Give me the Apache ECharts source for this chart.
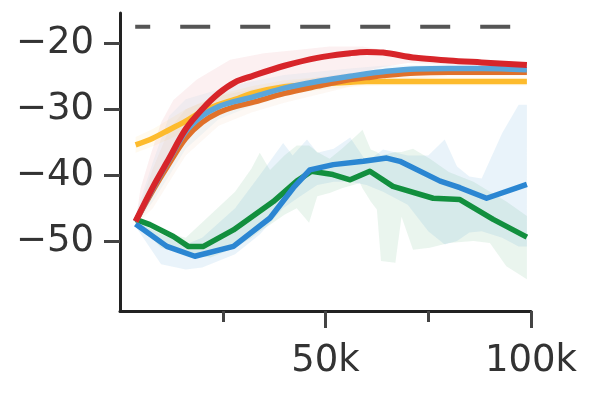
<!DOCTYPE html>
<html>
<head>
<meta charset="utf-8">
<script src="https://cdn.jsdelivr.net/npm/echarts@6/dist/echarts.min.js"></script>
<style>
html,body{margin:0;padding:0;background:#fff;}
#chart{width:598px;height:399px;}
</style>
</head>
<body>
<div id="chart"></div>
<script>
// ---- data (x in thousands of steps) ----
const yTicks = [-50, -40, -30, -20];
const xMajorTicks = [50, 100];
const xMinorTicks = [25, 75];
const refLevel = -17.5;
const refX = [3.7, 100];

const topX = [3.8, 8, 12, 16, 20, 24, 28, 32, 40, 48, 56, 60, 64, 72, 80, 88, 99];
const redY = [-47.0, -41.8, -37.4, -33.0, -30.0, -27.6, -25.9, -25.0, -23.4, -22.2, -21.5, -21.3, -21.4, -22.2, -22.6, -22.9, -23.3];
const lightBlueY = [-47.0, -42.0, -37.6, -33.4, -31.0, -29.6, -28.8, -28.2, -26.8, -25.8, -25.0, -24.6, -24.3, -23.9, -23.8, -23.8, -24.0];
const orangeY = [-47.0, -42.3, -38.2, -34.4, -32.0, -30.5, -29.6, -29.0, -27.6, -26.5, -25.5, -25.2, -24.9, -24.5, -24.4, -24.4, -24.4];
const yellowY = [-35.4, -34.4, -33.1, -31.8, -30.3, -29.3, -28.5, -27.6, -26.6, -26.2, -25.9, -25.8, -25.8, -25.8, -25.8, -25.8, -25.8];

const greenX = [3.8, 7.3, 13, 16.6, 20.3, 27.6, 37.3, 43, 46.6, 51.8, 56, 60.8, 66.4, 76.2, 82.7, 90.8, 99];
const greenY = [-46.7, -47.5, -49.3, -50.8, -50.8, -48.3, -44.0, -40.9, -39.4, -39.9, -40.7, -39.4, -41.7, -43.5, -43.7, -46.7, -49.4];
const blueX = [3.8, 11.4, 18.2, 27.6, 36.5, 42.2, 46.2, 51.9, 59.2, 64.9, 68.1, 77.9, 82.7, 89.2, 99];
const blueY = [-47.4, -50.8, -52.3, -50.8, -46.5, -41.9, -39.2, -38.4, -37.9, -37.4, -37.9, -40.9, -41.9, -43.5, -41.4];

// shaded bands
const redBandX = [3.8, 5, 7.3, 10, 13, 18.7, 26.8, 35, 43, 51, 59, 64, 70, 80, 99];
const redBandUp = [-47, -42, -37.2, -32, -28.6, -25.5, -22.5, -21.5, -21, -20.5, -20.5, -21.0, -21.6, -22.3, -23];
const redBandLo = [-47, -45, -43, -40, -36.5, -32, -29, -27.5, -26.3, -25.3, -24.3, -23.6, -23.0, -23.2, -23.6];
const lbBandX = [3.8, 8, 12, 16, 24, 32, 40, 48, 56, 64, 80, 99];
const lbBandUp = [-46, -38, -31, -28.5, -27, -25.8, -24.8, -24.3, -23.8, -23.4, -23.2, -23.4];
const lbBandLo = [-47.5, -44, -40, -36, -31.5, -29.5, -28, -27, -26, -25.2, -24.5, -24.6];
const orBandUp = [-46.5, -39, -33, -30, -28, -27, -26, -25.2, -24.5, -24, -23.8, -23.8];
const orBandLo = [-47.5, -45, -41, -37, -32.5, -30.5, -29, -27.8, -26.6, -25.8, -25, -25];
const yeBandUp = [-34.2, -33, -31.5, -30, -27.8, -26.5, -25.6, -25.2, -25.2, -25.2, -25.2, -25.2];
const yeBandLo = [-36.6, -35.6, -34.5, -33.4, -30.8, -28.8, -27.6, -27.1, -26.6, -26.4, -26.4, -26.4];

const greenBandX = [3.8, 10, 16, 22, 28, 32, 34, 36.5, 40, 43, 46, 48, 51, 54, 58.4, 59, 61, 62.5, 63.5, 67, 68.5, 71.3, 75.4, 80, 86, 90, 94, 99];
const greenBandUp = [-46.5, -48.5, -49.5, -46, -42.5, -39, -36.6, -39.2, -37, -35.5, -35.5, -36.5, -37.5, -36, -33.5, -33.1, -36.1, -36.5, -37, -36.5, -36.5, -36, -37.5, -39.5, -41, -42.5, -44, -46.2];
const greenBandLo = [-47, -51, -52, -52.5, -51, -49.5, -48.5, -47.5, -46, -45, -47.2, -43.2, -42.7, -42, -41.2, -42, -44, -45.2, -53.0, -53.3, -46.3, -51.3, -51.0, -50.3, -50, -50.3, -53.8, -55.8];
const blueBandX = [3.8, 10, 16, 20, 28, 34, 39.7, 42, 45.5, 48, 52, 56, 60, 64, 70, 75, 79, 82, 85, 88, 93, 97, 99];
const blueBandUp = [-47, -49, -50.5, -49.5, -45, -40, -35.1, -37, -34.6, -36.6, -36, -34.3, -38, -36.1, -37, -37, -34.6, -38.7, -40.2, -40.5, -33.6, -29.3, -29.3];
const blueBandLo = [-47.8, -53.5, -54.3, -54, -52, -49, -45, -44, -42.5, -41.5, -41, -41, -41.5, -42.5, -44.5, -48.5, -50.5, -50, -48.7, -48.5, -49.5, -50.8, -50.8];

// ---- chart ----
const K = 1000;
const pairs = (xs, ys) => xs.map((x, i) => [x * K, ys[i]]);

function band(xs, up, lo, color) {
  return {
    type: 'custom', coordinateSystem: 'cartesian2d', silent: true, z: 1, clip: true,
    data: [[xs[0] * K, up[0]]],
    renderItem: function (params, api) {
      const pts = [];
      for (let i = 0; i < xs.length; i++) pts.push(api.coord([xs[i] * K, up[i]]));
      for (let i = xs.length - 1; i >= 0; i--) pts.push(api.coord([xs[i] * K, lo[i]]));
      return { type: 'polygon', shape: { points: pts }, style: { fill: color } };
    }
  };
}

function line(xs, ys, color, w, z, smooth) {
  return {
    type: 'line', data: pairs(xs, ys), showSymbol: false, symbol: 'none', z: z,
    smooth: smooth, lineStyle: { color: color, width: w, cap: 'butt', join: 'round' }, silent: true
  };
}

const C = {
  red: '#d7252a', lightBlue: '#5ba6da', orange: '#e0712a', yellow: '#fdbb2d',
  blue: '#2b86d2', green: '#128f3e'
};

const fontFam = '"DejaVu Sans", Verdana, sans-serif';
const chart = echarts.init(document.getElementById('chart'), null, { renderer: 'canvas' });
chart.setOption({
  animation: false,
  backgroundColor: '#fff',
  grid: { left: 120, right: 67, top: 13, bottom: 88, containLabel: false },
  xAxis: [{
    type: 'value', min: 0, max: 100 * K, position: 'bottom',
    axisLine: { show: true, lineStyle: { color: '#222', width: 3 } },
    axisTick: { show: true, length: 17, lineStyle: { color: '#444', width: 3 }, customValues: xMajorTicks.map(v => v * K) },
    axisLabel: { show: true, customValues: xMajorTicks.map(v => v * K), formatter: v => (v / K) + 'k', color: '#333', fontSize: 37, fontFamily: fontFam, margin: 32 },
    splitLine: { show: false }
  }, {
    type: 'value', min: 0, max: 100 * K, position: 'bottom',
    axisLine: { show: false },
    axisTick: { show: true, length: 11, lineStyle: { color: '#444', width: 3 }, customValues: xMinorTicks.map(v => v * K) },
    axisLabel: { show: false },
    splitLine: { show: false }
  }],
  yAxis: {
    type: 'value', min: -60.6, max: -15.4,
    axisLine: { show: true, lineStyle: { color: '#222', width: 3 } },
    axisTick: { show: true, length: 16, lineStyle: { color: '#444', width: 3 }, customValues: yTicks },
    axisLabel: { show: true, customValues: yTicks, formatter: v => '\u2212' + Math.abs(v), color: '#333', fontSize: 37, fontFamily: fontFam, margin: 26 },
    splitLine: { show: false }
  },
  series: [
    band(redBandX, redBandUp, redBandLo, 'rgba(215,37,42,0.065)'),
    band(lbBandX, lbBandUp, lbBandLo, 'rgba(91,166,218,0.07)'),
    band(lbBandX, orBandUp, orBandLo, 'rgba(224,113,42,0.05)'),
    band(lbBandX, yeBandUp, yeBandLo, 'rgba(253,187,45,0.08)'),
    band(greenBandX, greenBandUp, greenBandLo, 'rgba(18,143,62,0.09)'),
    band(blueBandX, blueBandUp, blueBandLo, 'rgba(43,134,210,0.10)'),
    line(greenX, greenY, C.green, 5.5, 3, false),
    line(blueX, blueY, C.blue, 5.5, 4, false),
    line(topX, yellowY, C.yellow, 5.5, 5, 0.35),
    line(topX, orangeY, C.orange, 5.5, 6, 0.35),
    line(topX, lightBlueY, C.lightBlue, 5.5, 7, 0.35),
    line(topX, redY, C.red, 6, 8, 0.35),
    {
      type: 'line', data: pairs(refX, [refLevel, refLevel]), symbol: 'none', z: 9, silent: true,
      lineStyle: { color: '#555', width: 4, type: [30, 30], dashOffset: 15, cap: 'butt' }
    }
  ]
});
</script>
</body>
</html>
